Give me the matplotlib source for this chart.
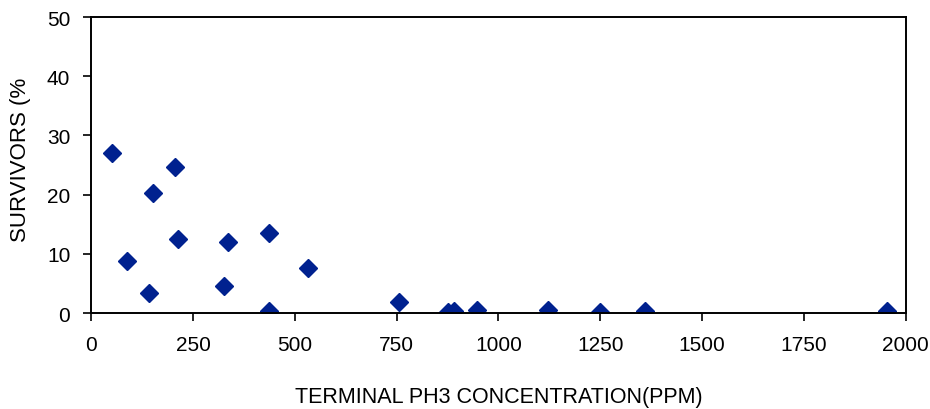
import matplotlib
matplotlib.use('Agg')
import matplotlib.pyplot as plt

# terminal PH3 concentration (ppm) vs survivors (%)
conc = [50, 88, 142, 152, 206, 213, 326, 336, 437, 437, 533,
        755, 875, 892, 947, 1121, 1249, 1360, 1953]
survivors = [27.0, 8.8, 3.4, 20.3, 24.7, 12.5, 4.6, 12.0, 0.3, 13.5, 7.6,
             1.9, 0.2, 0.3, 0.5, 0.5, 0.2, 0.3, 0.4]

x_ticks = [0, 250, 500, 750, 1000, 1250, 1500, 1750, 2000]
y_ticks = [0, 10, 20, 30, 40, 50]

plt.rcParams['font.family'] = ['Liberation Sans', 'DejaVu Sans']

fig = plt.figure(figsize=(9.3, 4.1), dpi=100)
ax = fig.add_axes([0.098, 0.234, 0.876, 0.722])

ax.plot(conc, survivors, linestyle='none', marker='D', markersize=9,
        color='#00218F', markeredgecolor='#00218F')

ax.set_xlim(0, 2000)
ax.set_ylim(0, 50)
ax.set_xticks(x_ticks)
ax.set_yticks(y_ticks)
ax.tick_params(direction='out', length=6, width=1.2, labelsize=15, colors='black')
ax.tick_params(axis='x', pad=10)
ax.tick_params(axis='y', pad=9)
for s in ax.spines.values():
    s.set_linewidth(1.4)
    s.set_color('black')

ax.set_xlabel('TERMINAL PH3 CONCENTRATION(PPM)', fontsize=15.5)
ax.set_ylabel('SURVIVORS (%', fontsize=16)
ax.xaxis.set_label_coords(0.5, -0.245)
ax.yaxis.set_label_coords(-0.074, 0.52)

fig.savefig('out.png', dpi=100)
